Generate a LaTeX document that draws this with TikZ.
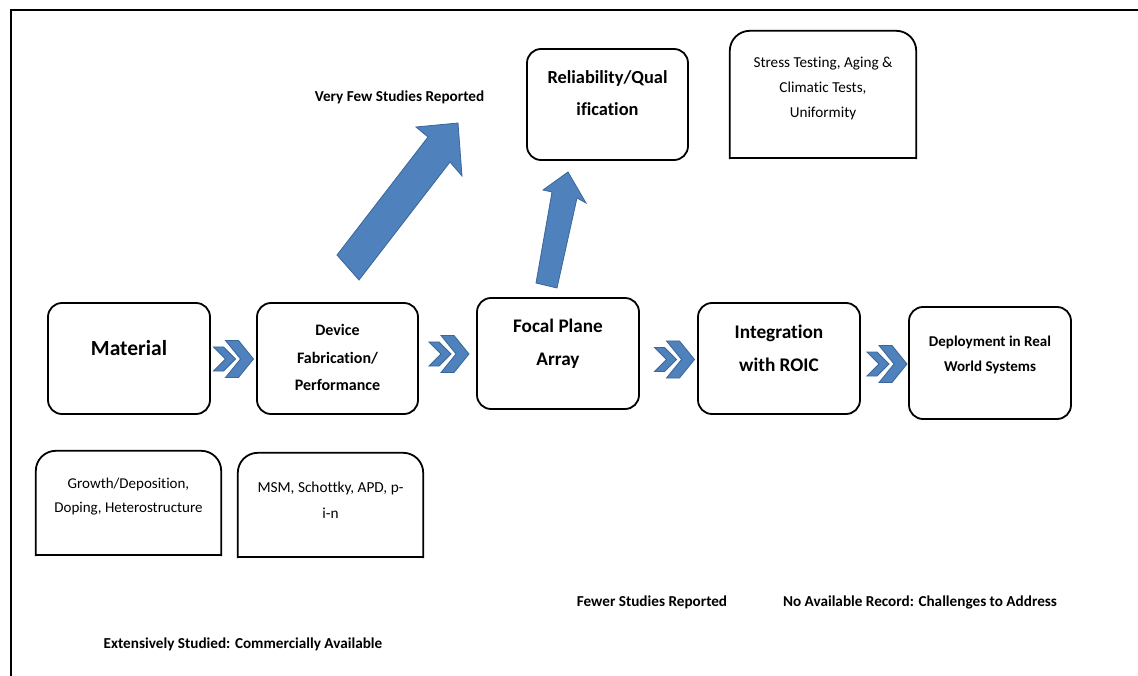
\documentclass[tikz,border=0pt]{standalone}
\usepackage{fontspec}
\setmainfont{Carlito}[Ligatures=NoCommon]
\definecolor{arrowblue}{HTML}{4F81BD}
\definecolor{arrowedge}{HTML}{3A6699}
\begin{document}
\begin{tikzpicture}[x=1pt,y=-1pt,
  box/.style={draw=black, line width=1.8pt, rounded corners=14pt, inner sep=0pt},
  plainbox/.style={draw=none, inner sep=0pt},
  txt/.style={align=center, inner sep=0pt, text=black},
  lbl/.style={txt, font=\fontsize{15.2}{18}\selectfont\bfseries},
  blockarrow/.style={fill=arrowblue, draw=arrowedge, line width=0.8pt, line join=miter},
  pics/dchev/.style={code={
    \path[blockarrow] (-20,-12) -- (-10,-12) -- (2,0) -- (-10,12) -- (-20,12) -- (-8,0) -- cycle;
    \path[blockarrow] (-8,-18.5) -- (5,-18.5) -- (20,0) -- (5,18.5) -- (-8,18.5) -- (7,0) -- cycle;
  }}]
\useasboundingbox (0,0) rectangle (1138,676);
\fill[white] (0,0) rectangle (1138,676);
% frame
\draw[line width=2pt] (1138,10) -- (11,10) -- (11,676);

% main boxes
\node[box, minimum width=162pt, minimum height=111pt] (material) at (129,358.5) {};
\node[box, minimum width=161pt, minimum height=111pt] (device) at (337.5,358.5) {};
\node[box, minimum width=162pt, minimum height=111pt] (fpa) at (558,353.5) {};
\node[box, minimum width=162pt, minimum height=111pt] (roic) at (779,358.5) {};
\node[box, minimum width=162pt, minimum height=112pt] (deploy) at (990,363) {};
\node[box, minimum width=161pt, minimum height=111pt] (relia) at (607.5,104.5) {};

% top-rounded boxes
\node[plainbox, minimum width=186pt, minimum height=127pt] (stress) at (823,94.5) {};
\node[plainbox, minimum width=185pt, minimum height=104pt] (growth) at (128.5,503) {};
\node[plainbox, minimum width=185pt, minimum height=104pt] (msm) at (330.5,505) {};
\foreach \b in {stress,growth,msm}{
  \draw[line width=1.8pt, rounded corners=20pt, line cap=rect] (\b.south west) -- (\b.north west) -- (\b.north east) -- (\b.south east);
  \draw[line width=1.8pt, line cap=rect] (\b.south east) -- (\b.south west);
}

% box texts
\node[txt, font=\fontsize{21.5}{26}\selectfont\bfseries] (materialT) at (129,348) {Material};
\node[txt, font=\fontsize{16}{27.5}\selectfont\bfseries] (deviceT) at (337.5,357.5) {Device\\Fabrication/\\Performance};
\node[txt, font=\fontsize{19.2}{33}\selectfont\bfseries] (fpaT) at (558,343.5) {Focal Plane\\Array};
\node[txt, font=\fontsize{19.3}{33}\selectfont\bfseries] (roicT) at (779,348.5) {Integration\\with ROIC};
\node[txt, font=\fontsize{15}{25}\selectfont\bfseries] (deployT) at (990,354.5) {Deployment in Real\\World Systems};
\node[txt, font=\fontsize{18.4}{32}\selectfont\bfseries] (reliaT) at (607.5,93) {Reliability/Qual\\ification};
\node[txt, font=\fontsize{15.2}{25}\selectfont] (stressT) at (823,88) {Stress Testing,\ Aging \&\\Climatic Tests,\\Uniformity};
\node[txt, font=\fontsize{15}{24}\selectfont] (growthT) at (128.5,496.5) {Growth/Deposition,\\Doping, Heterostructure};
\node[txt, font=\fontsize{15.3}{26}\selectfont] (msmT) at (330.5,500) {MSM, Schottky, APD, p-\\i-n};

% chevrons
\pic at (233.5,359) {dchev};
\pic at (449,354) {dchev};
\pic at (674.5,359.5) {dchev};
\pic at (887,364) {dchev};

% block arrows
\path[blockarrow] (337,255) -- (428,137) -- (416,127) -- (458,123) -- (462,176) -- (450,162) -- (359,280) -- cycle;
\path[blockarrow] (536,283) -- (552,192) -- (543,190) -- (568,172) -- (586,203) -- (577,198) -- (557,288) -- cycle;

% labels
\node[lbl] (veryfew) at (399.5,97) {Very Few Studies Reported};
\node[lbl] (fewer) at (652,602) {Fewer Studies Reported};
\node[lbl] (norecord) at (920,602) {No Available Record: Challenges to Address};
\node[lbl] (extensive) at (243,644) {Extensively Studied: Commercially Available};
\end{tikzpicture}
\end{document}
